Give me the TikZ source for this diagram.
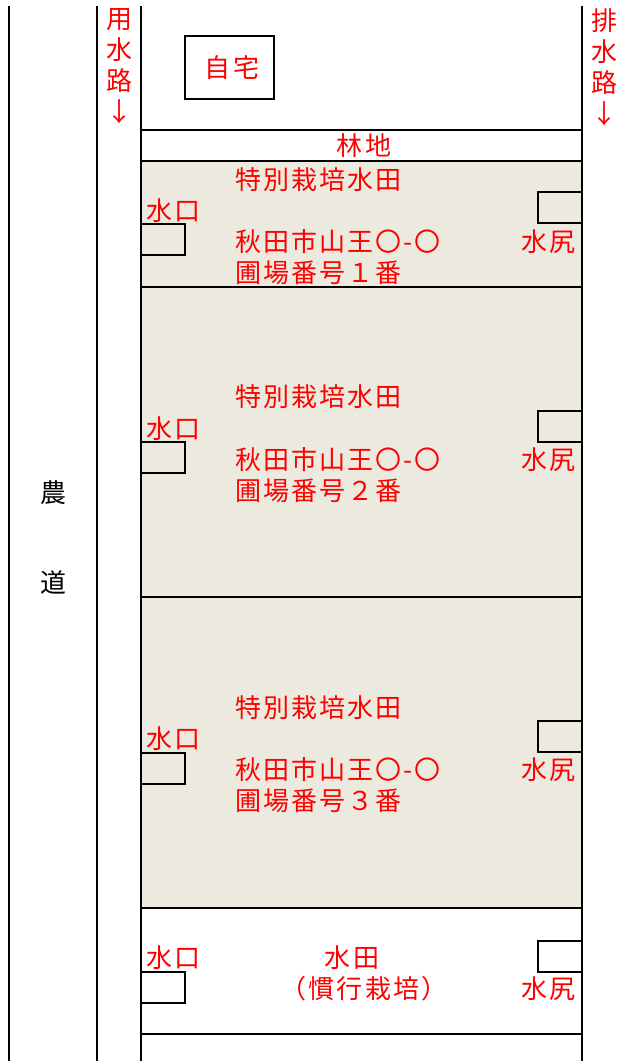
\documentclass[tikz,border=0pt]{standalone}
\usepackage{fontspec}
\setmainfont{Noto Sans CJK JP}
\newfontfamily\spacedfont[LetterSpace=8]{Noto Sans CJK JP}
\definecolor{paddy}{HTML}{ECE9DF}
\tikzset{
  lbl/.style={text=red, font=\spacedfont\fontsize{26}{26}\selectfont, inner sep=0pt, anchor=base west},
  lblc/.style={lbl, anchor=base},
  road/.style={text=black, font=\fontsize{26}{26}\selectfont, inner sep=0pt, anchor=base},
  vert/.style={text=red, font=\fontsize{26}{31}\selectfont, inner sep=0pt, anchor=north, align=center},
  wall/.style={line width=2.3pt, draw=black},
}
\begin{document}
\begin{tikzpicture}[x=1pt,y=-1pt]
\useasboundingbox (0,0) rectangle (617,1061);
\fill[paddy] (141,161) rectangle (582,908);
% vertical lines
\draw[wall] (9,6) -- (9,1061);
\draw[wall] (97,6) -- (97,1061);
\draw[wall] (141,6) -- (141,1061);
\draw[wall] (582,6) -- (582,1061);
% horizontal lines
\foreach \yy in {130,161,287,597,908,1034} \draw[wall] (141,\yy) -- (582,\yy);
% house
\draw[wall] (185,36) rectangle (274,99);
\node[lblc] (house) at (232,77) {自宅};
\node[lblc] (forest) at (364,155) {林地};
% channel labels
\node[vert] (inlet) at (119,8) {用\\水\\路\\↓};
\node[vert] (outlet) at (604,8) {排\\水\\路\\↓};
% road
\node[road] (no) at (53,502) {農};
\node[road] (do) at (53,592) {道};
% inlet / outlet boxes
\foreach \yy in {224,442,753,972} \draw[wall] (141,\yy) rectangle (185,\yy+31);
\foreach \yy in {192,411,721,941} \draw[wall] (538,\yy) rectangle (582,\yy+31);
% field 1
\node[lbl] (f1a) at (235,189) {特別栽培水田};
\node[lbl] (f1b) at (235,251) {秋田市山王〇-〇};
\node[lbl] (f1c) at (235,282) {圃場番号１番};
\node[lbl] (f1in) at (146,220) {水口};
\node[lbl] (f1out) at (521,251) {水尻};
% field 2
\node[lbl] (f2a) at (235,406) {特別栽培水田};
\node[lbl] (f2b) at (235,469) {秋田市山王〇-〇};
\node[lbl] (f2c) at (235,500) {圃場番号２番};
\node[lbl] (f2in) at (146,438) {水口};
\node[lbl] (f2out) at (521,469) {水尻};
% field 3
\node[lbl] (f3a) at (235,717) {特別栽培水田};
\node[lbl] (f3b) at (235,779) {秋田市山王〇-〇};
\node[lbl] (f3c) at (235,810) {圃場番号３番};
\node[lbl] (f3in) at (146,748) {水口};
\node[lbl] (f3out) at (521,779) {水尻};
% field 4
\node[lblc] (f4a) at (352,967) {水田};
\node[lblc] (f4b) at (364,998) {（慣行栽培）};
\node[lbl] (f4in) at (146,967) {水口};
\node[lbl] (f4out) at (521,998) {水尻};
\end{tikzpicture}
\end{document}
